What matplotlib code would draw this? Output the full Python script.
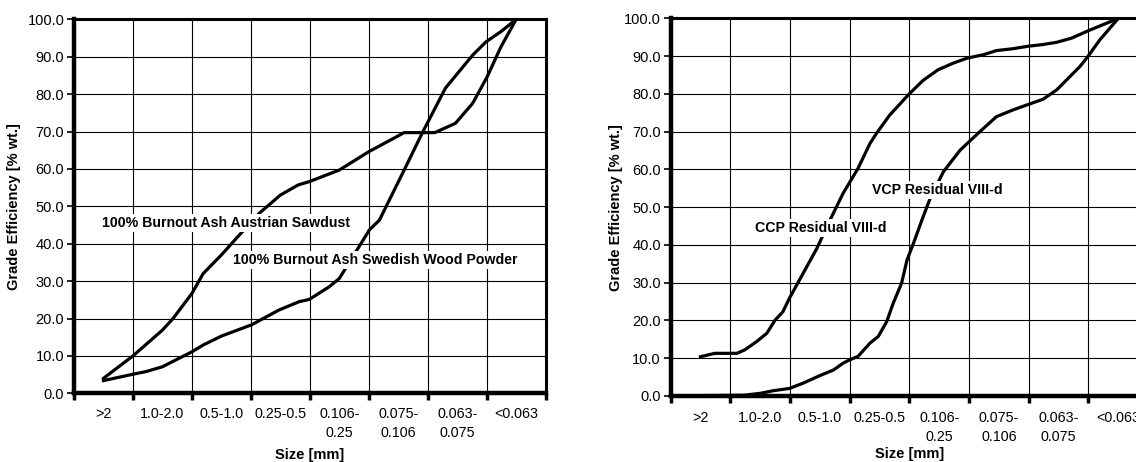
import matplotlib
matplotlib.use("Agg")
import matplotlib.pyplot as plt
import numpy as np

plt.rcParams['font.family'] = ['Liberation Sans', 'DejaVu Sans']

categories = [">2", "1.0-2.0", "0.5-1.0", "0.25-0.5", "0.106-\n0.25",
              "0.075-\n0.106", "0.063-\n0.075", "<0.063"]
y_ticks = [0, 10, 20, 30, 40, 50, 60, 70, 80, 90, 100]

# Left panel: position along the size axis (category index) and grade efficiency [% wt.]
austrian_x = [0.0, 0.5, 1.0, 1.18, 1.5, 1.69, 2.0, 2.28, 2.64, 3.0, 3.3, 3.49, 4.0, 4.5,
              5.1, 5.44, 5.62, 5.97, 6.26, 6.51, 6.74, 7.0]
austrian_y = [4.0, 10.0, 16.9, 20.0, 26.7, 32.0, 37.0, 41.9, 48.1, 53.0, 55.7, 56.6, 59.7, 64.6,
              69.7, 69.7, 69.7, 72.2, 77.5, 84.7, 92.6, 100.0]
swedish_x = [0.0, 0.5, 0.72, 1.0, 1.5, 1.69, 2.0, 2.51, 2.98, 3.32, 3.49, 3.83, 4.0, 4.37,
             4.51, 4.68, 5.1, 5.41, 5.8, 6.26, 6.49, 6.74, 7.0]
swedish_y = [3.4, 5.1, 5.8, 7.1, 11.1, 12.9, 15.3, 18.3, 22.3, 24.5, 25.1, 28.5, 30.7, 40.1,
             43.7, 46.3, 59.7, 69.7, 81.6, 90.4, 94.0, 96.7, 100.0]

# Right panel
ccp_x = [0.0, 0.24, 0.61, 0.74, 0.94, 1.11, 1.25, 1.38, 1.49, 1.72, 1.95, 2.17, 2.39, 2.64,
         2.84, 2.95, 3.17, 3.49, 3.73, 3.98, 4.24, 4.47, 4.74, 4.96, 5.24, 5.47, 5.74,
         5.97, 6.22, 6.49, 6.69, 7.0]
ccp_y = [10.4, 11.3, 11.3, 12.2, 14.4, 16.6, 20.1, 22.3, 25.9, 32.5, 39.1, 46.6, 53.7, 60.3,
         66.9, 69.6, 74.4, 79.9, 83.6, 86.4, 88.2, 89.5, 90.4, 91.5, 92.0, 92.6, 93.1,
         93.7, 94.8, 96.7, 98.0, 100.0]
vcp_x = [0.0, 0.73, 1.0, 1.22, 1.49, 1.72, 2.0, 2.23, 2.39, 2.49, 2.64, 2.84, 2.98, 3.12,
         3.23, 3.37, 3.46, 3.57, 3.71, 3.85, 4.07, 4.35, 4.47, 4.68, 4.96, 5.24, 5.47,
         5.74, 5.97, 6.19, 6.36, 6.49, 6.69, 7.0]
vcp_y = [0.1, 0.2, 0.7, 1.4, 2.0, 3.4, 5.4, 6.9, 8.7, 9.5, 10.5, 14.0, 15.8, 19.7,
         24.6, 29.9, 36.0, 40.5, 46.6, 52.4, 59.4, 65.1, 66.9, 70.0, 74.0, 75.8, 77.1,
         78.6, 81.1, 84.6, 87.3, 89.9, 94.3, 100.0]

fig = plt.figure(figsize=(11.36, 4.62), dpi=100)
ax1 = fig.add_axes([0.06514, 0.1487, 0.4152, 0.8095])
ax2 = fig.add_axes([0.5904, 0.1429, 0.4202, 0.8171])

def style(ax, ylab_x, xlab_y, cat_pad):
    n = len(categories)
    ax.set_xlim(-0.5, n - 0.5)
    ax.set_ylim(0, 100)
    ax.set_yticks(y_ticks)
    ax.set_yticklabels([f"{v:.1f}" for v in y_ticks], fontsize=10.5)
    ax.set_xticks(np.arange(n + 1) - 0.5)
    ax.set_xticklabels([])
    ax.set_xticks(np.arange(n), minor=True)
    ax.set_xticklabels(categories, minor=True, fontsize=10.3, linespacing=1.4, va='top')
    ax.tick_params(axis='x', which='minor', length=0, pad=cat_pad)
    ax.tick_params(axis='x', which='major', length=5, width=2.5, direction='out')
    ax.tick_params(axis='y', length=5, width=1.2, direction='out', pad=2)
    ax.grid(True, which='major', color='black', linewidth=0.8)
    ax.set_axisbelow(True)
    for s in ['left', 'bottom']:
        ax.spines[s].set_linewidth(3.2)
    for s in ['top', 'right']:
        ax.spines[s].set_linewidth(2.2)
    ax.set_ylabel("Grade Efficiency [% wt.]", fontsize=10.5, fontweight='bold')
    ax.yaxis.set_label_coords(ylab_x, 0.5)
    ax.set_xlabel("Size [mm]", fontsize=10.5, fontweight='bold')
    ax.xaxis.set_label_coords(0.5, xlab_y)

style(ax1, -0.112, -0.147, 10)
style(ax2, -0.1, -0.136, 11)

lw = 2.3
ax1.plot(austrian_x, austrian_y, color='black', lw=lw, solid_joinstyle='round')
ax1.plot(swedish_x, swedish_y, color='black', lw=lw, solid_joinstyle='round')
ax2.plot(ccp_x, ccp_y, color='black', lw=lw, solid_joinstyle='round')
ax2.plot(vcp_x, vcp_y, color='black', lw=lw, solid_joinstyle='round')

box = dict(facecolor='white', edgecolor='none', pad=1.5)
fs = 10.2
ax1.text(-0.02, 45.5, "100% Burnout Ash Austrian Sawdust", fontsize=fs, fontweight='bold',
         va='center', ha='left', bbox=box, zorder=5)
ax1.text(2.2, 35.6, "100% Burnout Ash Swedish Wood Powder", fontsize=fs, fontweight='bold',
         va='center', ha='left', bbox=box, zorder=5)
ax2.text(0.92, 44.5, "CCP Residual VIII-d", fontsize=fs, fontweight='bold',
         va='center', ha='left', bbox=box, zorder=5)
ax2.text(2.88, 54.6, "VCP Residual VIII-d", fontsize=fs, fontweight='bold',
         va='center', ha='left', bbox=box, zorder=5)

fig.savefig("out.png", dpi=100)
